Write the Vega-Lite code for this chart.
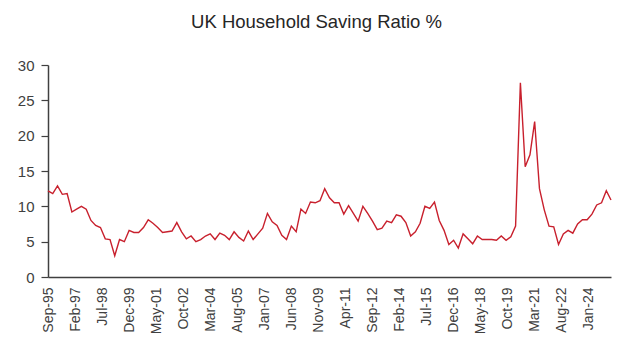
{
  "$schema": "https://vega.github.io/schema/vega-lite/v6.json",
  "width": 563,
  "height": 212,
  "autosize": {"type": "none"},
  "padding": {"left": 48, "top": 65, "right": 22, "bottom": 79},
  "background": "white",
  "title": {
    "text": "UK Household Saving Ratio %",
    "font": "Liberation Sans",
    "fontSize": 18.5,
    "fontWeight": "normal",
    "color": "#262626",
    "anchor": "middle",
    "frame": "group",
    "dx": -13,
    "offset": 27
  },
  "data": {
    "values": [
      {"date": "1995-09-01", "ratio": 12.2},
      {"date": "1995-12-01", "ratio": 11.8},
      {"date": "1996-03-01", "ratio": 12.9},
      {"date": "1996-06-01", "ratio": 11.7},
      {"date": "1996-09-01", "ratio": 11.8},
      {"date": "1996-12-01", "ratio": 9.2},
      {"date": "1997-03-01", "ratio": 9.6},
      {"date": "1997-06-01", "ratio": 10.0},
      {"date": "1997-09-01", "ratio": 9.6},
      {"date": "1997-12-01", "ratio": 8.0},
      {"date": "1998-03-01", "ratio": 7.3},
      {"date": "1998-06-01", "ratio": 7.0},
      {"date": "1998-09-01", "ratio": 5.4},
      {"date": "1998-12-01", "ratio": 5.3},
      {"date": "1999-03-01", "ratio": 3.0},
      {"date": "1999-06-01", "ratio": 5.3},
      {"date": "1999-09-01", "ratio": 5.0},
      {"date": "1999-12-01", "ratio": 6.6},
      {"date": "2000-03-01", "ratio": 6.3},
      {"date": "2000-06-01", "ratio": 6.3},
      {"date": "2000-09-01", "ratio": 7.0},
      {"date": "2000-12-01", "ratio": 8.1},
      {"date": "2001-03-01", "ratio": 7.6},
      {"date": "2001-06-01", "ratio": 7.0},
      {"date": "2001-09-01", "ratio": 6.3},
      {"date": "2001-12-01", "ratio": 6.4},
      {"date": "2002-03-01", "ratio": 6.5},
      {"date": "2002-06-01", "ratio": 7.7},
      {"date": "2002-09-01", "ratio": 6.4},
      {"date": "2002-12-01", "ratio": 5.4},
      {"date": "2003-03-01", "ratio": 5.8},
      {"date": "2003-06-01", "ratio": 5.0},
      {"date": "2003-09-01", "ratio": 5.3},
      {"date": "2003-12-01", "ratio": 5.8},
      {"date": "2004-03-01", "ratio": 6.1},
      {"date": "2004-06-01", "ratio": 5.3},
      {"date": "2004-09-01", "ratio": 6.2},
      {"date": "2004-12-01", "ratio": 5.9},
      {"date": "2005-03-01", "ratio": 5.3},
      {"date": "2005-06-01", "ratio": 6.4},
      {"date": "2005-09-01", "ratio": 5.6},
      {"date": "2005-12-01", "ratio": 5.1},
      {"date": "2006-03-01", "ratio": 6.5},
      {"date": "2006-06-01", "ratio": 5.3},
      {"date": "2006-09-01", "ratio": 6.1},
      {"date": "2006-12-01", "ratio": 6.9},
      {"date": "2007-03-01", "ratio": 9.0},
      {"date": "2007-06-01", "ratio": 7.8},
      {"date": "2007-09-01", "ratio": 7.3},
      {"date": "2007-12-01", "ratio": 5.9},
      {"date": "2008-03-01", "ratio": 5.3},
      {"date": "2008-06-01", "ratio": 7.2},
      {"date": "2008-09-01", "ratio": 6.4},
      {"date": "2008-12-01", "ratio": 9.6},
      {"date": "2009-03-01", "ratio": 9.0},
      {"date": "2009-06-01", "ratio": 10.6},
      {"date": "2009-09-01", "ratio": 10.5},
      {"date": "2009-12-01", "ratio": 10.8},
      {"date": "2010-03-01", "ratio": 12.5},
      {"date": "2010-06-01", "ratio": 11.2},
      {"date": "2010-09-01", "ratio": 10.5},
      {"date": "2010-12-01", "ratio": 10.5},
      {"date": "2011-03-01", "ratio": 8.9},
      {"date": "2011-06-01", "ratio": 10.1},
      {"date": "2011-09-01", "ratio": 9.0},
      {"date": "2011-12-01", "ratio": 7.9},
      {"date": "2012-03-01", "ratio": 10.0},
      {"date": "2012-06-01", "ratio": 9.0},
      {"date": "2012-09-01", "ratio": 7.9},
      {"date": "2012-12-01", "ratio": 6.7},
      {"date": "2013-03-01", "ratio": 6.9},
      {"date": "2013-06-01", "ratio": 7.9},
      {"date": "2013-09-01", "ratio": 7.7},
      {"date": "2013-12-01", "ratio": 8.8},
      {"date": "2014-03-01", "ratio": 8.6},
      {"date": "2014-06-01", "ratio": 7.7},
      {"date": "2014-09-01", "ratio": 5.8},
      {"date": "2014-12-01", "ratio": 6.4},
      {"date": "2015-03-01", "ratio": 7.6},
      {"date": "2015-06-01", "ratio": 10.0},
      {"date": "2015-09-01", "ratio": 9.7},
      {"date": "2015-12-01", "ratio": 10.6},
      {"date": "2016-03-01", "ratio": 8.0},
      {"date": "2016-06-01", "ratio": 6.6},
      {"date": "2016-09-01", "ratio": 4.6},
      {"date": "2016-12-01", "ratio": 5.2},
      {"date": "2017-03-01", "ratio": 4.1},
      {"date": "2017-06-01", "ratio": 6.1},
      {"date": "2017-09-01", "ratio": 5.4},
      {"date": "2017-12-01", "ratio": 4.7},
      {"date": "2018-03-01", "ratio": 5.8},
      {"date": "2018-06-01", "ratio": 5.3},
      {"date": "2018-09-01", "ratio": 5.3},
      {"date": "2018-12-01", "ratio": 5.3},
      {"date": "2019-03-01", "ratio": 5.2},
      {"date": "2019-06-01", "ratio": 5.8},
      {"date": "2019-09-01", "ratio": 5.2},
      {"date": "2019-12-01", "ratio": 5.7},
      {"date": "2020-03-01", "ratio": 7.2},
      {"date": "2020-06-01", "ratio": 27.5},
      {"date": "2020-09-01", "ratio": 15.6},
      {"date": "2020-12-01", "ratio": 17.3},
      {"date": "2021-03-01", "ratio": 22.0},
      {"date": "2021-06-01", "ratio": 12.5},
      {"date": "2021-09-01", "ratio": 9.5},
      {"date": "2021-12-01", "ratio": 7.2},
      {"date": "2022-03-01", "ratio": 7.1},
      {"date": "2022-06-01", "ratio": 4.6},
      {"date": "2022-09-01", "ratio": 6.1},
      {"date": "2022-12-01", "ratio": 6.6},
      {"date": "2023-03-01", "ratio": 6.2},
      {"date": "2023-06-01", "ratio": 7.5},
      {"date": "2023-09-01", "ratio": 8.1},
      {"date": "2023-12-01", "ratio": 8.1},
      {"date": "2024-03-01", "ratio": 8.9},
      {"date": "2024-06-01", "ratio": 10.2},
      {"date": "2024-09-01", "ratio": 10.5},
      {"date": "2024-12-01", "ratio": 12.2},
      {"date": "2025-03-01", "ratio": 10.9}
    ]
  },
  "mark": {"type": "line", "color": "#c8202d", "strokeWidth": 1.4, "interpolate": "linear"},
  "encoding": {
    "x": {
      "field": "date",
      "type": "temporal",
      "title": null,
      "scale": {"domain": [{"year": 1995, "month": 9, "date": 1}, {"year": 2025, "month": 3, "date": 1}]},
      "axis": {
        "values": [
          {"year": 1995, "month": 9, "date": 1},
          {"year": 1997, "month": 2, "date": 1},
          {"year": 1998, "month": 7, "date": 1},
          {"year": 1999, "month": 12, "date": 1},
          {"year": 2001, "month": 5, "date": 1},
          {"year": 2002, "month": 10, "date": 1},
          {"year": 2004, "month": 3, "date": 1},
          {"year": 2005, "month": 8, "date": 1},
          {"year": 2007, "month": 1, "date": 1},
          {"year": 2008, "month": 6, "date": 1},
          {"year": 2009, "month": 11, "date": 1},
          {"year": 2011, "month": 4, "date": 1},
          {"year": 2012, "month": 9, "date": 1},
          {"year": 2014, "month": 2, "date": 1},
          {"year": 2015, "month": 7, "date": 1},
          {"year": 2016, "month": 12, "date": 1},
          {"year": 2018, "month": 5, "date": 1},
          {"year": 2019, "month": 10, "date": 1},
          {"year": 2021, "month": 3, "date": 1},
          {"year": 2022, "month": 8, "date": 1},
          {"year": 2024, "month": 1, "date": 1}
        ],
        "format": "%b-%y",
        "labelAngle": -90,
        "labelAlign": "right",
        "labelBaseline": "middle",
        "labelFont": "Liberation Sans",
        "labelFontSize": 14,
        "labelColor": "#404040",
        "labelPadding": 10,
        "labelFlush": false,
        "labelOverlap": false,
        "ticks": false,
        "grid": false,
        "domainColor": "#404040",
        "domainWidth": 1.5
      }
    },
    "y": {
      "field": "ratio",
      "type": "quantitative",
      "title": null,
      "scale": {"domain": [0, 30], "nice": false, "zero": true},
      "axis": {
        "values": [0, 5, 10, 15, 20, 25, 30],
        "labelFont": "Liberation Sans",
        "labelFontSize": 15,
        "labelColor": "#404040",
        "labelPadding": 7,
        "tickSize": 7,
        "tickColor": "#404040",
        "tickWidth": 1.2,
        "domainColor": "#404040",
        "domainWidth": 1.5,
        "grid": false
      }
    }
  },
  "config": {"view": {"stroke": null}}
}
